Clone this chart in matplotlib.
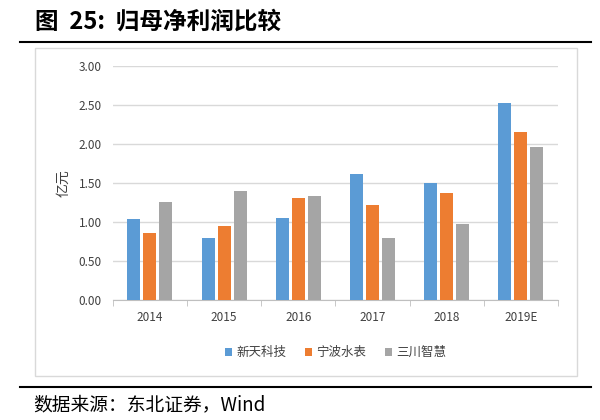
import numpy as np
import matplotlib.pyplot as plt
from matplotlib.patches import Rectangle
from matplotlib.lines import Line2D

plt.rcParams['font.family'] = ['Noto Sans CJK SC', 'DejaVu Sans']

years = ["2014", "2015", "2016", "2017", "2018", "2019E"]
xintian = [1.04, 0.80, 1.05, 1.61, 1.50, 2.52]
ningbo = [0.86, 0.95, 1.31, 1.21, 1.37, 2.15]
sanchuan = [1.25, 1.39, 1.33, 0.79, 0.97, 1.96]
series_names = ["新天科技", "宁波水表", "三川智慧"]
colors = ["#5B9BD5", "#ED7D31", "#A5A5A5"]

fig = plt.figure(figsize=(6, 4.2), dpi=100)

# outer chart frame
fig.patches.append(Rectangle((0.058, 0.105), 0.903, 0.781, transform=fig.transFigure,
                             fill=False, edgecolor="#D9D9D9", linewidth=1))
# title and source lines
fig.add_artist(Line2D([0.033, 0.985], [0.9, 0.9], color="black", linewidth=1.5))
fig.add_artist(Line2D([0.033, 0.985], [0.079, 0.079], color="black", linewidth=1.5))
fig.text(0.058, 0.948, "图  25:  归母净利润比较", fontsize=17, fontweight="bold",
         va="center", ha="left")
fig.text(0.055, 0.036, "数据来源：东北证券，Wind", fontsize=13.5, va="center", ha="left")

ax = fig.add_axes([0.188, 0.2857, 0.742, 0.558])
x = np.arange(len(years))
width = 0.175
step = 0.216
for i, (vals, name, c) in enumerate(zip([xintian, ningbo, sanchuan], series_names, colors)):
    ax.bar(x + (i - 1) * step, vals, width=width, color=c, label=name, zorder=3)

ax.set_ylim(0, 3.0)
ax.set_xlim(-0.5, len(years) - 0.5)
ax.set_yticks(np.arange(0, 3.01, 0.5))
ax.set_yticklabels([f"{v:.2f}" for v in np.arange(0, 3.01, 0.5)])
ax.set_xticks(x)
ax.set_xticklabels(years)
ax.set_xticks(np.arange(-0.5, len(years), 1), minor=True)
ax.tick_params(axis="x", which="major", length=0, pad=8, labelsize=8.5, labelcolor="#404040")
ax.tick_params(axis="x", which="minor", length=4, color="#BFBFBF", direction="out")
ax.tick_params(axis="y", length=0, pad=8, labelsize=8.5, labelcolor="#404040")
ax.grid(axis="y", color="#D9D9D9", linewidth=1, zorder=0)
for s in ["top", "right", "left"]:
    ax.spines[s].set_visible(False)
ax.spines["bottom"].set_color("#BFBFBF")
ax.set_ylabel("亿元", fontsize=10, color="#404040", labelpad=6)

ax.legend(loc="center", bbox_to_anchor=(0.5, -0.225), ncol=3, frameon=False,
          fontsize=9, handlelength=0.6, handleheight=0.6, handletextpad=0.3,
          columnspacing=1.5, labelcolor="#404040")

fig.savefig("out.png", dpi=100)
